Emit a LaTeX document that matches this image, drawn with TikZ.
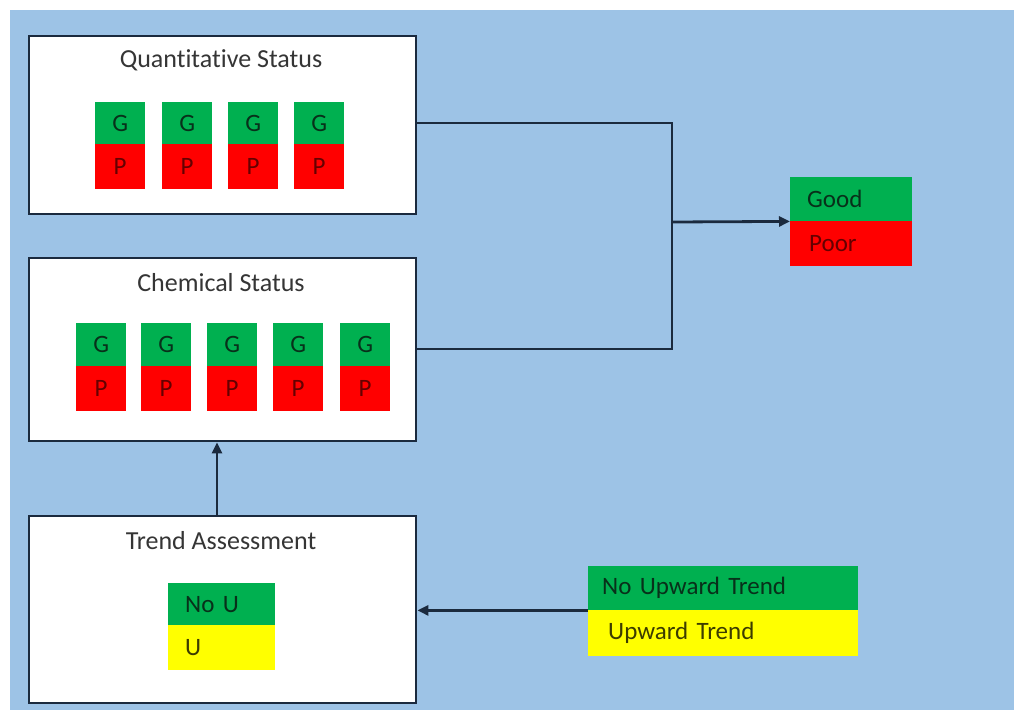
\documentclass[tikz,border=0pt]{standalone}
\usepackage{fontspec}
\setmainfont[Ligatures=NoCommon]{Carlito}
\usetikzlibrary{arrows.meta}
\definecolor{bgblue}{HTML}{9DC3E6}
\definecolor{gfill}{HTML}{00B050}
\definecolor{rfill}{HTML}{FF0000}
\definecolor{yfill}{HTML}{FFFF00}
\definecolor{edge}{HTML}{1B2A3E}
\definecolor{gtext}{HTML}{08301A}
\definecolor{rtext}{HTML}{650000}
\definecolor{ytext}{HTML}{3C3C00}
\definecolor{ttext}{HTML}{353535}
\tikzset{
  panel/.style={draw=edge, line width=2.4pt, fill=white, anchor=north west, inner sep=0pt},
  ptitle/.style={font=\fontsize{26}{30}\selectfont, text=ttext, inner sep=0pt},
  gcell/.style={fill=gfill, anchor=north west, inner sep=0pt, minimum width=50pt, minimum height=43pt, text=gtext, font=\fontsize{25}{29}\selectfont},
  rcell/.style={fill=rfill, anchor=north west, inner sep=0pt, minimum width=50pt, minimum height=45pt, text=rtext, font=\fontsize{25}{29}\selectfont},
  legtext/.style={align=left, inner ysep=0pt, font=\fontsize{25}{29}\selectfont},
  conn/.style={draw=edge, line width=2.8pt},
  arr/.style={conn, -{Triangle[length=11pt,width=10pt]}}
}
\begin{document}
\begin{tikzpicture}[x=1pt,y=-1pt]
\useasboundingbox (0,0) rectangle (1014,710);
\fill[white] (0,0) rectangle (1014,710);
\fill[bgblue] (10,10) rectangle (1014,710);

% panels
\node[panel, minimum width=387pt, minimum height=178pt] (quant) at (28,35) {};
\node[panel, minimum width=387pt, minimum height=183pt] (chem) at (28,257) {};
\node[panel, minimum width=387pt, minimum height=187pt] (trend) at (28,515) {};

\node[ptitle] (qt) at (221,60) {Quant\kern0pt itat\kern0pt ive Status};
\node[ptitle] (ct) at (221,283) {Chemical Status};
\node[ptitle] (tt) at (221,541) {Trend Assessment};

% quantitative cells
\foreach \x [count=\i] in {95,162,228,294}{
  \node[gcell] (qg\i) at (\x,102) {G};
  \node[rcell] (qp\i) at (\x,144) {P};
}
% chemical cells
\foreach \x [count=\i] in {76,141,207,273,340}{
  \node[gcell] (cg\i) at (\x,323) {G};
  \node[rcell] (cp\i) at (\x,366) {P};
}

% trend legend inside
\node[gcell, legtext, minimum width=107pt, minimum height=42pt, inner xsep=17pt, text width=73pt] (nou) at (168,583) {No U};
\node[rcell, legtext, fill=yfill, text=ytext, minimum width=107pt, minimum height=45pt, inner xsep=17pt, text width=73pt] (u) at (168,625) {U};

% result legend
\node[gcell, legtext, minimum width=122pt, minimum height=44pt, inner xsep=17pt, text width=88pt] (good) at (790,177) {Good};
\node[rcell, legtext, minimum width=122pt, minimum height=45pt, inner xsep=19pt, text width=84pt] (poor) at (790,221) {Poor};

% trend legend right
\node[gcell, legtext, minimum width=270pt, minimum height=44pt, inner xsep=14pt, text width=242pt] (nut) at (588,566) {No Upward Trend};
\node[rcell, legtext, fill=yfill, text=ytext, minimum width=270pt, minimum height=46pt, inner xsep=20pt, text width=230pt] (ut) at (588,610) {Upward Trend};

% connectors
\coordinate (j1) at (672,123);
\coordinate (j2) at (672,349);
\coordinate (jm) at (672,222);
\draw[conn] (quant.east |- j1) -- (j1) -- (j2) -- (chem.east |- j2);
\draw[arr] (jm) -- (good.south west);
\draw[arr] (trend.north -| 217,0) -- (chem.south -| 217,0);
\draw[arr] (nut.south west) -- (trend.east |- nut.south west);
\end{tikzpicture}
\end{document}
